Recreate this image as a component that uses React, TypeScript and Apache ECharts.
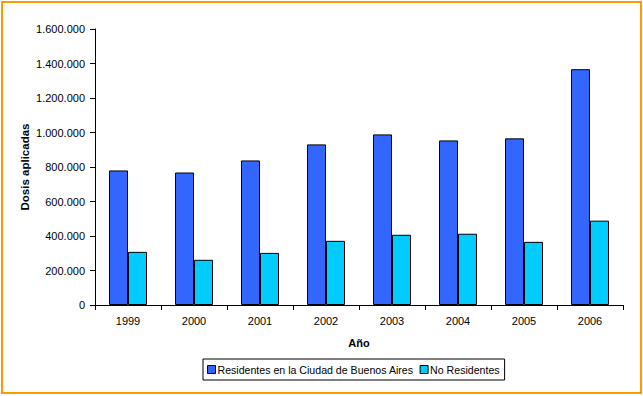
import React, { useEffect, useRef } from "react";
import * as echarts from "echarts";

const years = ["1999", "2000", "2001", "2002", "2003", "2004", "2005", "2006"];
const residentes = [780000, 768000, 838000, 931000, 989000, 954000, 966000, 1367000];
const noResidentes = [308000, 262000, 302000, 372000, 407000, 413000, 366000, 489000];
const seriesNames = ["Residentes en la Ciudad de Buenos Aires", "No Residentes"];
const yTicks = { min: 0, max: 1600000, interval: 200000 };

const fmt = (v: number) => String(v).replace(/\B(?=(\d{3})+(?!\d))/g, ".");

export default function App() {
  const ref = useRef<HTMLDivElement>(null);
  useEffect(() => {
    document.body.style.margin = "0";
    const chart = echarts.init(ref.current!, null, { renderer: "svg" });
    const font = "'Liberation Sans', Arial, sans-serif";
    chart.setOption({
      animation: false,
      backgroundColor: "#ffffff",
      textStyle: { fontFamily: font },
      graphic: [
        {
          type: "rect",
          shape: { x: 2, y: 2, width: 639, height: 391 },
          style: { fill: "none", stroke: "#FF9900", lineWidth: 2 },
          silent: true,
        },
      ],
      grid: { left: 95, right: 20, top: 29, bottom: 91, containLabel: false },
      legend: {
        left: 203,
        top: 359,
        data: seriesNames,
        itemWidth: 8,
        itemHeight: 8,
        itemGap: 6,
        padding: [5, 5, 5, 4],
        borderColor: "#000",
        borderWidth: 1,
        borderRadius: 0,
        icon: "rect",
        itemStyle: { borderColor: "#000", borderWidth: 1 },
        textStyle: { fontFamily: font, fontSize: 10.6, color: "#000", padding: [0, 0, 0, -3] },
      },
      xAxis: {
        type: "category",
        data: years,
        name: "Año",
        nameLocation: "middle",
        nameGap: 32,
        nameTextStyle: { fontFamily: font, fontSize: 11, fontWeight: "bold", color: "#000" },
        axisLine: { lineStyle: { color: "#000", width: 1 } },
        axisTick: { show: true, length: 5, lineStyle: { color: "#000" } },
        axisLabel: { color: "#000", fontSize: 11, fontFamily: font, margin: 10 },
      },
      yAxis: {
        type: "value",
        min: yTicks.min,
        max: yTicks.max,
        interval: yTicks.interval,
        name: "Dosis aplicadas",
        nameLocation: "middle",
        nameGap: 64,
        nameMoveOverlap: false,
        nameTextStyle: { fontFamily: font, fontSize: 11.5, fontWeight: "bold", color: "#000" },
        axisLine: { show: true, lineStyle: { color: "#000", width: 1 } },
        axisTick: { show: true, length: 5, lineStyle: { color: "#000" } },
        axisLabel: { color: "#000", fontSize: 11, fontFamily: font, margin: 10, formatter: (v: number) => fmt(v) },
        splitLine: { show: false },
      },
      series: [
        {
          name: seriesNames[0],
          type: "bar",
          data: residentes,
          barWidth: 19,
          barGap: "0%",
          itemStyle: { color: "#3366FF", borderColor: "#000", borderWidth: 1 },
        },
        {
          name: seriesNames[1],
          type: "bar",
          data: noResidentes,
          barWidth: 19,
          itemStyle: { color: "#00CCFF", borderColor: "#000", borderWidth: 1 },
        },
      ],
    });
    return () => chart.dispose();
  }, []);
  return <div ref={ref} style={{ width: 643, height: 396 }} />;
}
